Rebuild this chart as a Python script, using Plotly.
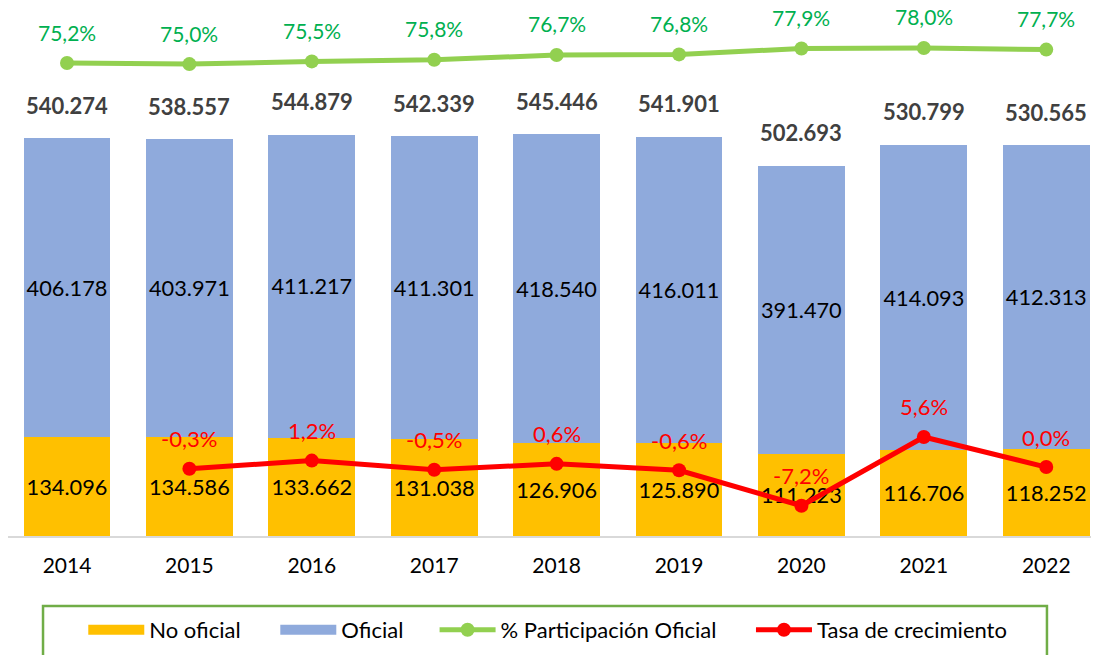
import plotly.graph_objects as go

# Data
YEARS = ["2014", "2015", "2016", "2017", "2018", "2019", "2020", "2021", "2022"]
NO_OFICIAL = [134096, 134586, 133662, 131038, 126906, 125890, 111223, 116706, 118252]
OFICIAL = [406178, 403971, 411217, 411301, 418540, 416011, 391470, 414093, 412313]
TOTAL = [540274, 538557, 544879, 542339, 545446, 541901, 502693, 530799, 530565]
PART_OFICIAL = [75.2, 75.0, 75.5, 75.8, 76.7, 76.8, 77.9, 78.0, 77.7]
TASA = [None, -0.3, 1.2, -0.5, 0.6, -0.6, -7.2, 5.6, 0.0]

FONT = "Lato, 'Open Sans', sans-serif"
GOLD = "#FFC000"
BLUE = "#8FAADC"
GREEN = "#92D050"
GREEN_TXT = "#00B050"
RED = "#FF0000"


def fmt_pct(v):
    return f"{v:.1f}".replace(".", ",") + "%"


def fmt_num(v):
    return f"{v:,}".replace(",", ".")


fig = go.Figure()

fig.add_trace(go.Bar(
    x=YEARS, y=NO_OFICIAL, name="No oficial", showlegend=False,
    marker=dict(color=GOLD, line=dict(width=0)),
    text=[fmt_num(v) for v in NO_OFICIAL],
    textposition="inside", insidetextanchor="middle",
    textfont=dict(size=22, color="black", family=FONT),
    textangle=0,
))
fig.add_trace(go.Bar(
    x=YEARS, y=OFICIAL, name="Oficial", showlegend=False,
    marker=dict(color=BLUE, line=dict(width=0)),
    text=[fmt_num(v) for v in OFICIAL],
    textposition="inside", insidetextanchor="middle",
    textfont=dict(size=22, color="black", family=FONT),
    textangle=0,
))
fig.add_trace(go.Scatter(
    x=YEARS, y=PART_OFICIAL, name="% Participación Oficial",
    mode="lines+markers", yaxis="y2", legend="legend3",
    line=dict(color=GREEN, width=5),
    marker=dict(color=GREEN, size=14),
))
fig.add_trace(go.Scatter(
    x=YEARS, y=TASA, name="Tasa de crecimiento",
    mode="lines+markers", yaxis="y2", legend="legend4",
    line=dict(color=RED, width=5),
    marker=dict(color=RED, size=14),
))

# legend entries for the bars drawn as wide swatches, like the original
fig.add_trace(go.Scatter(
    x=[None], y=[None], name="No oficial", mode="lines", legend="legend",
    line=dict(color=GOLD, width=13),
))
fig.add_trace(go.Scatter(
    x=[None], y=[None], name="Oficial", mode="lines", legend="legend2",
    line=dict(color=BLUE, width=13),
))

# annotations use the category index (a "2014" string would be read as index 2014)
annotations = []
for i, t in enumerate(TOTAL):
    annotations.append(dict(
        x=i, y=t, xref="x", yref="y", text=f"<b>{fmt_num(t)}</b>",
        showarrow=False, yanchor="middle", yshift=33,
        font=dict(size=22, color="#404040", family=FONT),
    ))
for i, p in enumerate(PART_OFICIAL):
    annotations.append(dict(
        x=i, y=p, xref="x", yref="y2", text=fmt_pct(p),
        showarrow=False, yanchor="middle", yshift=31,
        font=dict(size=21, color=GREEN_TXT, family=FONT),
    ))
for i, r in enumerate(TASA):
    if r is None:
        continue
    annotations.append(dict(
        x=i, y=r, xref="x", yref="y2", text=fmt_pct(r),
        showarrow=False, yanchor="middle", yshift=30,
        font=dict(size=22, color=RED, family=FONT),
    ))


def legend_at(x):
    return dict(
        orientation="h", x=x, xanchor="left", y=-0.178, yanchor="middle",
        font=dict(size=22, color="black", family=FONT),
        itemwidth=56, bgcolor="rgba(0,0,0,0)",
    )


# page body has an 8px margin, so the figure is sized to fill the rest
fig.update_layout(
    width=1091, height=647,
    margin=dict(l=0, r=0, t=0, b=119),
    paper_bgcolor="white", plot_bgcolor="white",
    barmode="stack", bargap=0.29,
    font=dict(family=FONT, size=20, color="black"),
    xaxis=dict(
        type="category", range=[-0.482, 8.431],
        showline=True, linecolor="#D9D9D9", linewidth=2,
        showgrid=False, ticks="", ticklabelstandoff=10,
        tickfont=dict(size=21, color="black", family=FONT),
    ),
    yaxis=dict(range=[0, 716740], visible=False, showgrid=False),
    yaxis2=dict(range=[-12.83, 85.44], overlaying="y", visible=False, showgrid=False),
    showlegend=True,
    legend=legend_at(0.069),
    legend2=legend_at(0.245),
    legend3=legend_at(0.391),
    legend4=legend_at(0.681),
    annotations=annotations,
    shapes=[dict(
        type="rect", xref="paper", yref="paper",
        x0=0.0321, x1=0.9523, y0=-0.25, y1=-0.1326,
        line=dict(color="#70AD47", width=2.5), fillcolor="rgba(0,0,0,0)",
    )],
)

fig.write_html("out.html")
